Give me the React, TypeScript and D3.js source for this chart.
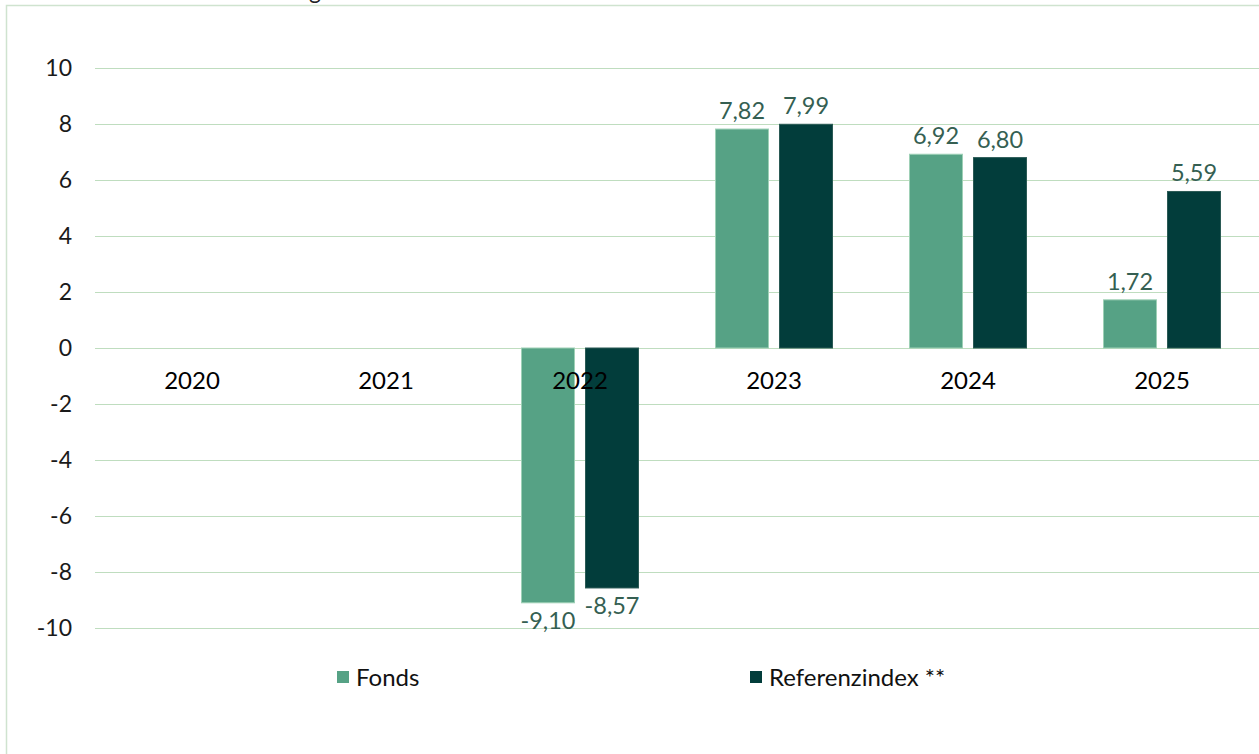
import { useEffect, useRef } from 'react';
import * as d3 from 'd3';

// chart data
const years = ['2020', '2021', '2022', '2023', '2024', '2025'];
const seriesNames = ['Fonds', 'Referenzindex **'];
const fondsValues: (number | null)[] = [null, null, -9.1, 7.82, 6.92, 1.72];
const referenzValues: (number | null)[] = [null, null, -8.57, 7.99, 6.8, 5.59];
const yTicks = [-10, -8, -6, -4, -2, 0, 2, 4, 6, 8, 10];

const WIDTH = 1259;
const HEIGHT = 754;
const colors = ['#56A285', '#023D3B'];
const strokes = ['#9ED0B6', '#2B5A55'];
const gridColor = '#BFDDBF';
const font = 'Lato, "Open Sans", sans-serif';

const App = () => {
  const svgRef = useRef<SVGSVGElement>(null);

  useEffect(() => {
    if (!svgRef.current) return;
    const svg = d3.select(svgRef.current);
    svg.selectAll('*').remove();

    // outer frame
    svg
      .append('rect')
      .attr('x', 6.5)
      .attr('y', 5.5)
      .attr('width', WIDTH + 20)
      .attr('height', HEIGHT + 20)
      .attr('fill', 'white')
      .attr('stroke', '#CFE3CF')
      .attr('stroke-width', 1.5);

    // title cut off at top, only descender shows
    svg
      .append('text')
      .attr('x', 321)
      .attr('y', -1)
      .attr('text-anchor', 'end')
      .attr('font-family', font)
      .attr('font-size', 23)
      .attr('fill', '#222')
      .text('Wertentwicklung');

    const x0 = d3.scaleBand<string>().domain(years).range([95, 1259]).padding(0);
    const x1 = d3
      .scaleBand<string>()
      .domain(seriesNames)
      .range([38.5, x0.bandwidth() - 38.5])
      .paddingInner(0.172)
      .paddingOuter(0);
    const y = d3.scaleLinear().domain([-10, 10]).range([628, 68]);

    // grid
    const grid = svg.append('g');
    grid
      .selectAll('line')
      .data(yTicks)
      .join('line')
      .attr('x1', 95)
      .attr('x2', WIDTH)
      .attr('y1', (d) => y(d) + 0.5)
      .attr('y2', (d) => y(d) + 0.5)
      .attr('stroke', gridColor)
      .attr('stroke-width', 1.2);

    grid
      .selectAll('text')
      .data(yTicks)
      .join('text')
      .attr('x', 72)
      .attr('y', (d) => y(d))
      .attr('dy', '0.36em')
      .attr('text-anchor', 'end')
      .attr('font-family', font)
      .attr('font-size', 23)
      .attr('fill', '#1a1a1a')
      .text((d) => String(d));

    const seriesData = [fondsValues, referenzValues];
    const fmt = (v: number) => v.toFixed(2).replace('.', ',');

    seriesNames.forEach((name, si) => {
      const vals = seriesData[si];
      const items = years
        .map((yr, i) => ({ yr, v: vals[i] }))
        .filter((d) => d.v !== null) as { yr: string; v: number }[];

      const g = svg.append('g');
      g.selectAll('rect')
        .data(items)
        .join('rect')
        .attr('x', (d) => (x0(d.yr) as number) + (x1(name) as number))
        .attr('width', x1.bandwidth())
        .attr('y', (d) => Math.min(y(d.v), y(0)))
        .attr('height', (d) => Math.abs(y(d.v) - y(0)))
        .attr('fill', colors[si])
        .attr('stroke', strokes[si])
        .attr('stroke-width', 1);

      g.selectAll('text')
        .data(items)
        .join('text')
        .attr('x', (d) => (x0(d.yr) as number) + (x1(name) as number) + x1.bandwidth() / 2)
        .attr('y', (d) => (d.v >= 0 ? y(d.v) - 10 : y(d.v) + 26))
        .attr('text-anchor', 'middle')
        .attr('font-family', font)
        .attr('font-size', 23.5)
        .attr('fill', '#355F52')
        .text((d) => fmt(d.v));
    });

    // category labels drawn on top
    svg
      .append('g')
      .selectAll('text')
      .data(years)
      .join('text')
      .attr('x', (d) => (x0(d) as number) + x0.bandwidth() / 2)
      .attr('y', 389)
      .attr('text-anchor', 'middle')
      .attr('font-family', font)
      .attr('font-size', 24)
      .attr('fill', '#000')
      .text((d) => d);

    // legend
    const legendX = [337, 750];
    const legend = svg
      .append('g')
      .selectAll('g')
      .data(seriesNames)
      .join('g')
      .attr('transform', (_, i) => `translate(${legendX[i]},677)`);
    legend
      .append('rect')
      .attr('x', 0)
      .attr('y', -6)
      .attr('width', 12)
      .attr('height', 12)
      .attr('fill', (_, i) => colors[i]);
    legend
      .append('text')
      .attr('x', 19)
      .attr('y', 0)
      .attr('dy', '0.36em')
      .attr('font-family', font)
      .attr('font-size', 24)
      .attr('fill', '#111')
      .text((d) => d);
  }, []);

  return (
    <svg
      ref={svgRef}
      width={WIDTH}
      height={HEIGHT}
      style={{ position: 'absolute', left: 0, top: 0, background: 'white' }}
    />
  );
};

export default App;
